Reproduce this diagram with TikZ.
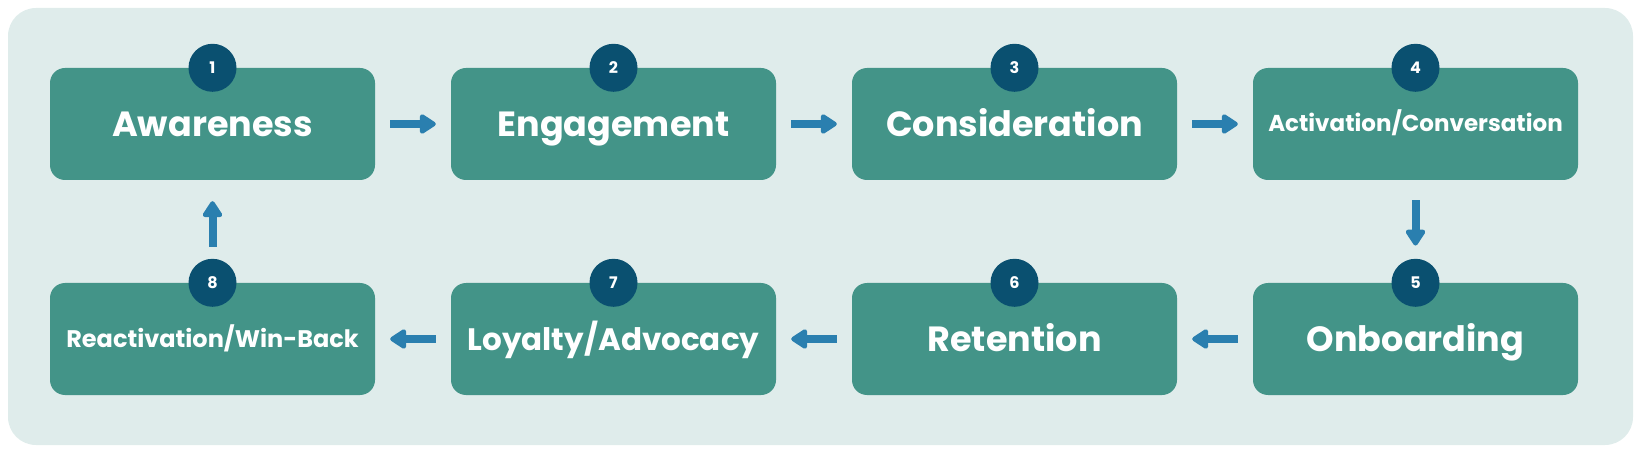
\documentclass[tikz,border=0pt]{standalone}
\usepackage{fontspec}
\setmainfont{Poppins}
\usepackage{tikz}
\usetikzlibrary{arrows.meta}

\definecolor{bgfill}{RGB}{223,236,235}
\definecolor{boxfill}{RGB}{67,148,136}
\definecolor{numfill}{RGB}{10,80,112}
\definecolor{arrowblue}{RGB}{42,127,175}

\begin{document}
\begin{tikzpicture}[
		x=1pt, y=-1pt,
		stage/.style={rectangle, rounded corners=15pt, fill=boxfill, text=white,
			minimum width=325pt, minimum height=112pt, inner sep=0pt,
			font=\fontsize{35}{35}\selectfont\bfseries, text height=24.5pt, text depth=0pt},
		num/.style={circle, fill=numfill, text=white, minimum size=48pt, inner sep=0pt,
			font=\fontsize{16}{16}\selectfont\bfseries},
		flow/.style={draw=arrowblue, line width=8pt, -{Triangle[length=18pt, width=22pt, round]}}
	]
  \useasboundingbox (0,0) rectangle (1646,462);
  \fill[bgfill, rounded corners=28pt] (8,8) rectangle (1633,445);
  % top row
  \node (aware) [stage] at (212.5, 124) {Awareness};
  \node (engage) [stage] at (613.5, 124) {Engagement};
  \node (consid) [stage] at (1014.5, 124) {Consideration};
  \node (activ) [stage, font=\fontsize{23}{23}\selectfont\bfseries, text height=16pt] at (1415.5, 124) {Activation/Conversation};
  % bottom row
  \node (onboard) [stage] at (1415.5, 339) {Onboarding};
  \node (retain) [stage] at (1014.5, 339) {Retention};
  \node (loyal) [stage, font=\fontsize{31}{31}\selectfont\bfseries, text height=22pt] at (613.5, 339) {Loyalty/Advocacy};
  \node (react) [stage, font=\fontsize{24}{24}\selectfont\bfseries, text height=17pt] at (212.5, 339) {Reactivation/Win-Back};
  % numbers
  \node (num_1) [num] at (aware.north) {1};
  \node (num_2) [num] at (engage.north) {2};
  \node (num_3) [num] at (consid.north) {3};
  \node (num_4) [num] at (activ.north) {4};
  \node (num_5) [num] at (onboard.north) {5};
  \node (num_6) [num] at (retain.north) {6};
  \node (num_7) [num] at (loyal.north) {7};
  \node (num_8) [num] at (react.north) {8};
  % arrows
  \draw[flow, shorten <=15pt, shorten >=15pt] (aware) -- (engage);
  \draw[flow, shorten <=15pt, shorten >=15pt] (engage) -- (consid);
  \draw[flow, shorten <=15pt, shorten >=15pt] (consid) -- (activ);
  \draw[flow, shorten <=20pt, shorten >=13pt] (activ) -- (num_5);
  \draw[flow, shorten <=15pt, shorten >=15pt] (onboard) -- (retain);
  \draw[flow, shorten <=15pt, shorten >=15pt] (retain) -- (loyal);
  \draw[flow, shorten <=15pt, shorten >=15pt] (loyal) -- (react);
  \draw[flow, shorten <=12pt, shorten >=21pt] (num_8) -- (aware);
\end{tikzpicture}
\end{document}
